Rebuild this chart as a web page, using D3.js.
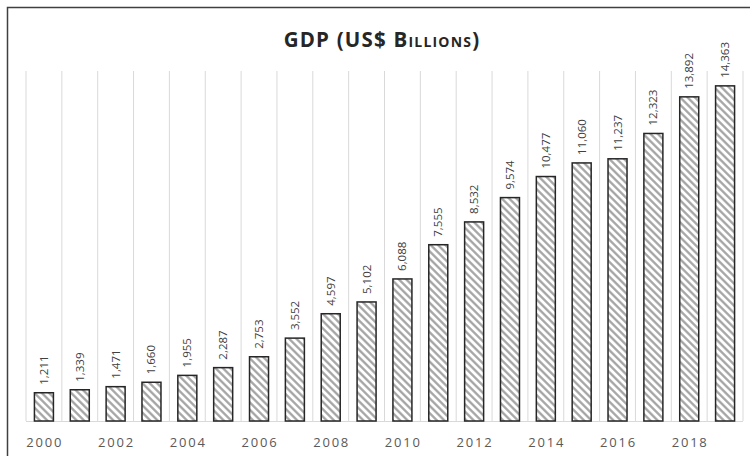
<!DOCTYPE html>
<html><head><meta charset="utf-8">
<script src="https://cdn.jsdelivr.net/npm/d3@7"></script>
<style>body{margin:0;background:#fff}</style>
</head><body>
<svg id="c" width="750" height="456"></svg>
<script>
const years = [2000,2001,2002,2003,2004,2005,2006,2007,2008,2009,2010,2011,2012,2013,2014,2015,2016,2017,2018,2019];
const gdp = [1211,1339,1471,1660,1955,2287,2753,3552,4597,5102,6088,7555,8532,9574,10477,11060,11237,12323,13892,14363];
const tickYears = [2000,2002,2004,2006,2008,2010,2012,2014,2016,2018];
const yDomain = [0, 15000];
const title = "GDP (US$ Billions)";

const svg = d3.select("#c");
svg.append("rect").attr("width",750).attr("height",456).attr("fill","#fff");
svg.append("rect").attr("x",7.5).attr("y",7.5).attr("width",800).attr("height",500)
  .attr("fill","none").attr("stroke","#404040").attr("stroke-width",1.5);

const defs = svg.append("defs");
const pat = defs.append("pattern").attr("id","hatch").attr("patternUnits","userSpaceOnUse")
  .attr("width",5.2).attr("height",5.2).attr("patternTransform","rotate(-45)");
pat.append("rect").attr("width",5.2).attr("height",5.2).attr("fill","#fff");
pat.append("line").attr("x1",1.3).attr("y1",-1).attr("x2",1.3).attr("y2",7).attr("stroke","#a0a0a0").attr("stroke-width",2.2);

const L=26, R=743, T=71, B=421;
const x = d3.scaleBand().domain(years).range([L,R]).paddingInner(0.47).paddingOuter(0.235);
const y = d3.scaleLinear().domain(yDomain).range([B,T]);
const step = x.step();

// vertical gridlines at category boundaries
const bounds = d3.range(years.length+1).map(i => L + i*step);
svg.append("g").selectAll("line").data(bounds).join("line")
  .attr("x1",d=>d).attr("x2",d=>d).attr("y1",T).attr("y2",B)
  .attr("stroke","#d9d9d9").attr("stroke-width",1);
svg.append("line").attr("x1",L).attr("x2",R).attr("y1",B+0.5).attr("y2",B+0.5)
  .attr("stroke","#d9d9d9").attr("stroke-width",1);

// bars
svg.append("g").selectAll("rect").data(years).join("rect")
  .attr("x",d=>x(d)).attr("width",x.bandwidth())
  .attr("y",(d,i)=>y(gdp[i])).attr("height",(d,i)=>B-y(gdp[i]))
  .attr("fill","url(#hatch)").attr("stroke","#262626").attr("stroke-width",1.5);

// value labels
svg.append("g").selectAll("text").data(years).join("text")
  .attr("transform",(d,i)=>`translate(${x(d)+x.bandwidth()/2+4},${y(gdp[i])-8}) rotate(-90)`)
  .attr("font-family","'Open Sans', sans-serif").attr("font-size",11.5).attr("fill","#404040")
  .text((d,i)=>d3.format(",")(gdp[i]));

// x axis labels
const xAxis = d3.axisBottom(x).tickValues(tickYears).tickSize(0).tickPadding(0).tickFormat(d3.format("d"));
const gx = svg.append("g").attr("transform",`translate(0,${B})`).call(xAxis);
gx.select(".domain").remove();
gx.selectAll("text").attr("font-family","'Open Sans', sans-serif").attr("font-size",13)
  .attr("fill","#595959").attr("letter-spacing","1.8px").attr("dy",null).attr("y",26)
  .attr("dx","0.9px");

// title
svg.append("text").attr("x",382).attr("y",47).attr("text-anchor","middle")
  .attr("font-family","'Open Sans', sans-serif").attr("font-weight",700).attr("font-size",20.5)
  .attr("font-variant","small-caps").attr("letter-spacing","1.2px").attr("fill","#262626")
  .text(title);
</script>
</body></html>
